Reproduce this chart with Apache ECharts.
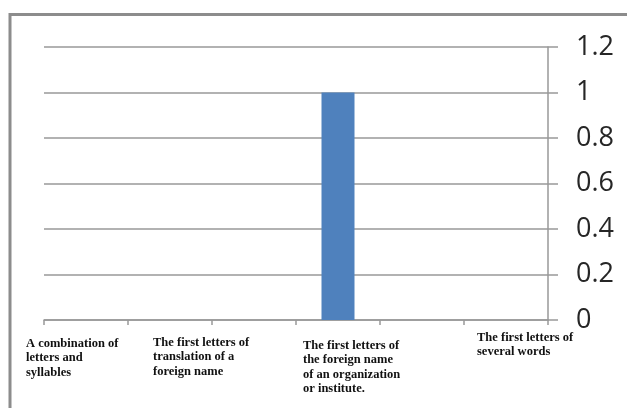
<!DOCTYPE html>
<html>
<head>
<meta charset="utf-8">
<script src="https://cdn.jsdelivr.net/npm/echarts@6/dist/echarts.min.js"></script>
<style>
html,body{margin:0;padding:0;background:#fff;}
#chart{width:627px;height:408px;}
</style>
</head>
<body>
<div id="chart"></div>
<script>
const categories = ['1', '2', '3', '4', '5', '6'];
const values = [0, 0, 0, 1, 0, 0];
const yTicks = [0, 0.2, 0.4, 0.6, 0.8, 1, 1.2];
const labelTexts = [
  'A combination of\nletters and\nsyllables',
  'The first letters of\ntranslation of a\nforeign name',
  'The first letters of\nthe foreign name\nof an organization\nor institute.',
  'The first letters of\nseveral words'
];
const labelPos = [[26, 336], [153, 335], [303, 338], [477, 330]];

const chart = echarts.init(document.getElementById('chart'));
const graphics = [{
  type: 'rect',
  shape: {x: 10, y: 14.5, width: 700, height: 500},
  style: {fill: 'none', stroke: '#8c8c8c', lineWidth: 3},
  silent: true
}];
labelTexts.forEach((t, i) => {
  graphics.push({
    type: 'text',
    x: labelPos[i][0], y: labelPos[i][1],
    style: {
      text: t,
      font: 'bold 12.5px "Liberation Serif", "Times New Roman", serif',
      lineHeight: 14.6,
      fill: '#111',
      verticalAlign: 'top',
      align: 'left'
    }
  });
});

chart.setOption({
  animation: false,
  grid: {left: 44, right: 79, top: 47, bottom: 88},
  xAxis: {
    type: 'category',
    data: categories,
    boundaryGap: true,
    axisLine: {lineStyle: {color: '#999', width: 1.5}},
    axisTick: {show: true, length: 5, interval: 0, lineStyle: {color: '#999', width: 1.5}},
    axisLabel: {show: false}
  },
  yAxis: {
    type: 'value',
    position: 'right',
    min: 0, max: 1.2, interval: 0.2,
    axisLine: {show: true, lineStyle: {color: '#999', width: 1.5}},
    axisTick: {show: true, length: 10, lineStyle: {color: '#999', width: 1.5}},
    axisLabel: {
      margin: 28,
      fontSize: 27,
      fontFamily: '"Open Sans", "Liberation Sans", sans-serif',
      color: '#262626',
      formatter: v => String(+v.toFixed(1))
    },
    splitLine: {show: true, lineStyle: {color: '#999', width: 1.5}}
  },
  series: [{
    type: 'bar',
    data: values,
    barWidth: 33,
    itemStyle: {color: '#4F81BD'}
  }],
  graphic: graphics
});
</script>
</body>
</html>
